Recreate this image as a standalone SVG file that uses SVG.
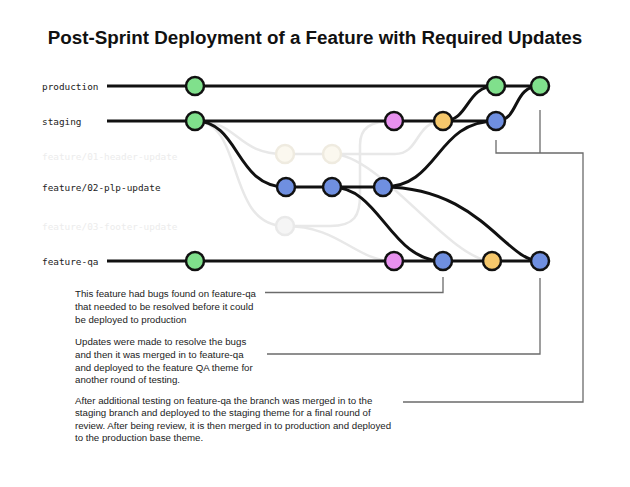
<svg xmlns="http://www.w3.org/2000/svg" width="630" height="487" viewBox="0 0 630 487">
<style>
.title{font-family:"Liberation Sans",Arial,sans-serif;font-weight:bold;font-size:18.8px;fill:#111}
.lbl{font-family:"DejaVu Sans Mono","Liberation Mono",monospace;font-size:9.4px;fill:#222}
.lbl.faint{fill:#ececec}
.note{font-family:"Liberation Sans",Arial,sans-serif;font-size:9.7px;fill:#222}
.br{fill:none;stroke:#111;stroke-width:3}
.fb{fill:none;stroke:#e8e8e8;stroke-width:2.5}
.call{fill:none;stroke:#6b6b6b;stroke-width:1.3}
.n{stroke:#111;stroke-width:2.5}
.green{fill:#80e08c}.pink{fill:#e891ef}.yellow{fill:#f6c86c}.blue{fill:#6f8fe0}
.f1{fill:#fbf8ef;stroke:#efebe0;stroke-width:2.5}
.f3{fill:#f5f5f5;stroke:#e9e9e9;stroke-width:2.5}
</style>
<rect width="630" height="487" fill="#ffffff"/>
<text class="title" x="315" y="44" text-anchor="middle">Post-Sprint Deployment of a Feature with Required Updates</text>
<g id="labels">
<text class="lbl" x="42" y="89.5">production</text>
<text class="lbl" x="42" y="124.5">staging</text>
<text class="lbl faint" x="42" y="159.5">feature/01-header-update</text>
<text class="lbl" x="42" y="191">feature/02-plp-update</text>
<text class="lbl faint" x="42" y="229.5">feature/03-footer-update</text>
<text class="lbl" x="42" y="264.5">feature-qa</text>
</g>
<g id="connectors">
<path class="fb" d="M195,121 C240,121 235,154 285,154 H332"/>
<path class="fb" d="M195,121 C245,121 225,226 285,226"/>
<path class="fb" d="M332,154 H395 C420,154 415,121 443,121"/>
<path class="fb" d="M332,154 C380,154 450,261 492,261"/>
<path class="fb" d="M285,226 H330 C355,226 360,215 360,195 V145 C360,128 370,121 394,121"/>
<path class="fb" d="M285,226 C340,226 355,261 394,261"/>
<path class="br" d="M107,86 H540"/>
<path class="br" d="M107,121 H496"/>
<path class="br" d="M107,261 H540"/>
<path class="br" d="M195,121 C240,121 235,187 286,187 H383"/>
<path class="br" d="M332,187 C380,187 390,261 443,261"/>
<path class="br" d="M383,187 C440,187 435,121 496,121"/>
<path class="br" d="M383,187 C480,187 505,261 540,261"/>
<path class="br" d="M443,121 C470,121 465,86 496,86"/>
<path class="br" d="M496,121 C520,121 512,86 540,86"/>
<path class="call" d="M443,277 V292.5 H265"/>
<path class="call" d="M540,278 V354 H267"/>
<path class="call" d="M496,140 V153 H583 V402 H403"/>
<path class="call" d="M540,110 V153"/>
</g>
<g id="n-prod-1"><circle class="n green" cx="195" cy="86" r="9"/></g>
<g id="n-prod-2"><circle class="n green" cx="496" cy="86" r="9"/></g>
<g id="n-prod-3"><circle class="n green" cx="540" cy="86" r="9"/></g>
<g id="n-stg-1"><circle class="n green" cx="195" cy="121" r="9"/></g>
<g id="n-stg-2"><circle class="n pink" cx="394" cy="121" r="9"/></g>
<g id="n-stg-3"><circle class="n yellow" cx="443" cy="121" r="9"/></g>
<g id="n-stg-4"><circle class="n blue" cx="496" cy="121" r="9"/></g>
<g id="n-f1-1"><circle class="f1" cx="285" cy="154" r="9"/></g>
<g id="n-f1-2"><circle class="f1" cx="332" cy="154" r="9"/></g>
<g id="n-f2-1"><circle class="n blue" cx="286" cy="187" r="9"/></g>
<g id="n-f2-2"><circle class="n blue" cx="332" cy="187" r="9"/></g>
<g id="n-f2-3"><circle class="n blue" cx="383" cy="187" r="9"/></g>
<g id="n-f3-1"><circle class="f3" cx="285" cy="226" r="9"/></g>
<g id="n-qa-1"><circle class="n green" cx="195" cy="261" r="9"/></g>
<g id="n-qa-2"><circle class="n pink" cx="394" cy="261" r="9"/></g>
<g id="n-qa-3"><circle class="n blue" cx="443" cy="261" r="9"/></g>
<g id="n-qa-4"><circle class="n yellow" cx="492" cy="261" r="9"/></g>
<g id="n-qa-5"><circle class="n blue" cx="540" cy="261" r="9"/></g>
<g id="note-1">
<text class="note" x="75" y="296.5">This feature had bugs found on feature-qa</text>
<text class="note" x="75" y="309.5">that needed to be resolved before it could</text>
<text class="note" x="75" y="322.5">be deployed to production</text>
</g>
<g id="note-2">
<text class="note" x="75" y="344.5">Updates were made to resolve the bugs</text>
<text class="note" x="75" y="357.5">and then it was merged in to feature-qa</text>
<text class="note" x="75" y="370.5">and deployed to the feature QA theme for</text>
<text class="note" x="75" y="383">another round of testing.</text>
</g>
<g id="note-3">
<text class="note" x="75" y="403.5">After additional testing on feature-qa the branch was merged in to the</text>
<text class="note" x="75" y="416">staging branch and deployed to the staging theme for a final round of</text>
<text class="note" x="75" y="428.5">review. After being review, it is then merged in to production and deployed</text>
<text class="note" x="75" y="441">to the production base theme.</text>
</g>
</svg>
